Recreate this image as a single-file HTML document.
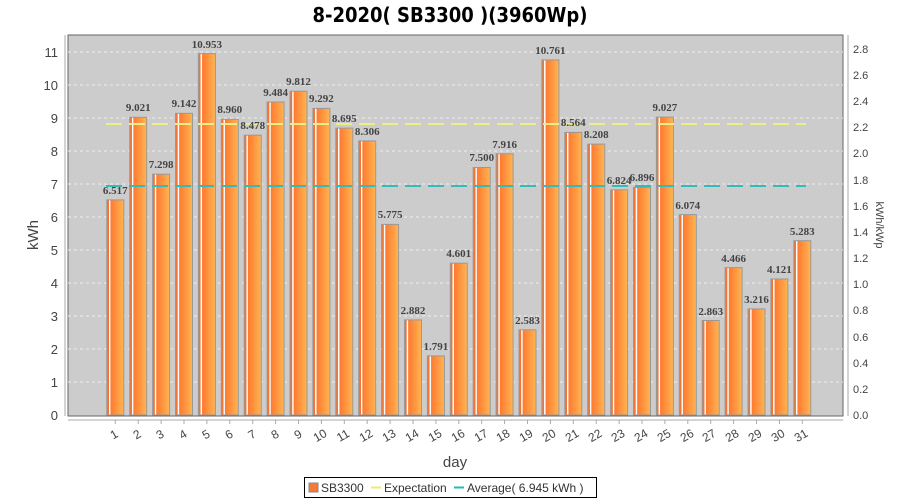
<!DOCTYPE html>
<html><head><meta charset="utf-8"><style>body{margin:0;background:#fff}svg{display:block}</style></head>
<body>
<svg width="900" height="500" xmlns="http://www.w3.org/2000/svg" font-family="Liberation Sans, sans-serif">
<defs>
<linearGradient id="g" x1="0" x2="1" y1="0" y2="0">
<stop offset="0" stop-color="#f47434"/><stop offset="0.12" stop-color="#f47434"/>
<stop offset="0.14" stop-color="#fff"/><stop offset="0.2" stop-color="#fff"/>
<stop offset="0.23" stop-color="#ff7a30"/><stop offset="1" stop-color="#ffb552"/>
</linearGradient>
</defs>
<text x="450" y="22" text-anchor="middle" font-family="DejaVu Sans, sans-serif" font-weight="bold" font-size="20" font-stretch="condensed" fill="#000">8-2020( SB3300 )(3960Wp)</text>
<rect x="68" y="35" width="775" height="381" fill="#cccccc" stroke="#666" stroke-width="1"/>
<g stroke="#eee" stroke-dasharray="3,3" stroke-width="1">
<line x1="68" x2="843" y1="382" y2="382"/><line x1="68" x2="843" y1="349" y2="349"/>
<line x1="68" x2="843" y1="316" y2="316"/><line x1="68" x2="843" y1="283" y2="283"/>
<line x1="68" x2="843" y1="250" y2="250"/><line x1="68" x2="843" y1="217" y2="217"/>
<line x1="68" x2="843" y1="184" y2="184"/><line x1="68" x2="843" y1="151" y2="151"/>
<line x1="68" x2="843" y1="118" y2="118"/><line x1="68" x2="843" y1="85" y2="85"/>
<line x1="68" x2="843" y1="52" y2="52"/>
</g>
<g font-size="13" fill="#444" text-anchor="end">
<text x="58" y="420">0</text><text x="58" y="387">1</text><text x="58" y="354">2</text><text x="58" y="321">3</text><text x="58" y="288">4</text><text x="58" y="255">5</text><text x="58" y="222">6</text><text x="58" y="189">7</text><text x="58" y="156">8</text><text x="58" y="123">9</text><text x="58" y="90">10</text><text x="58" y="57">11</text>
</g>
<line x1="65" y1="35" x2="65" y2="416" stroke="#aaa"/>
<line x1="848" y1="35" x2="848" y2="416" stroke="#aaa"/>
<g font-size="11" fill="#444">
<text x="853" y="419">0.0</text><text x="853" y="393">0.2</text><text x="853" y="367">0.4</text><text x="853" y="341">0.6</text><text x="853" y="314">0.8</text><text x="853" y="288">1.0</text><text x="853" y="262">1.2</text><text x="853" y="236">1.4</text><text x="853" y="210">1.6</text><text x="853" y="184">1.8</text><text x="853" y="157">2.0</text><text x="853" y="131">2.2</text><text x="853" y="105">2.4</text><text x="853" y="79">2.6</text><text x="853" y="53">2.8</text>
</g>
<text transform="translate(38,235) rotate(-90)" text-anchor="middle" font-size="15" fill="#444">kWh</text>
<text transform="translate(876,225) rotate(90)" text-anchor="middle" font-size="11" fill="#444">kWh/kWp</text>
<g fill="url(#g)" stroke="#999" stroke-width="1">
<rect x="106.8" y="199.9" width="17" height="215.1"/>
<rect x="129.7" y="117.3" width="17" height="297.7"/>
<rect x="152.6" y="174.2" width="17" height="240.8"/>
<rect x="175.5" y="113.3" width="17" height="301.7"/>
<rect x="198.4" y="53.6" width="17" height="361.4"/>
<rect x="221.3" y="119.3" width="17" height="295.7"/>
<rect x="244.2" y="135.2" width="17" height="279.8"/>
<rect x="267.1" y="102.0" width="17" height="313.0"/>
<rect x="290.0" y="91.2" width="17" height="323.8"/>
<rect x="312.9" y="108.4" width="17" height="306.6"/>
<rect x="335.8" y="128.1" width="17" height="286.9"/>
<rect x="358.7" y="140.9" width="17" height="274.1"/>
<rect x="381.6" y="224.4" width="17" height="190.6"/>
<rect x="404.5" y="319.9" width="17" height="95.1"/>
<rect x="427.4" y="355.9" width="17" height="59.1"/>
<rect x="450.3" y="263.2" width="17" height="151.8"/>
<rect x="473.2" y="167.5" width="17" height="247.5"/>
<rect x="496.1" y="153.8" width="17" height="261.2"/>
<rect x="519.0" y="329.8" width="17" height="85.2"/>
<rect x="541.9" y="59.9" width="17" height="355.1"/>
<rect x="564.8" y="132.4" width="17" height="282.6"/>
<rect x="587.7" y="144.1" width="17" height="270.9"/>
<rect x="610.6" y="189.8" width="17" height="225.2"/>
<rect x="633.5" y="187.4" width="17" height="227.6"/>
<rect x="656.4" y="117.1" width="17" height="297.9"/>
<rect x="679.3" y="214.6" width="17" height="200.4"/>
<rect x="702.2" y="320.5" width="17" height="94.5"/>
<rect x="725.1" y="267.6" width="17" height="147.4"/>
<rect x="748.0" y="308.9" width="17" height="106.1"/>
<rect x="770.9" y="279.0" width="17" height="136.0"/>
<rect x="793.8" y="240.7" width="17" height="174.3"/>
</g>
<line x1="106" x2="806" y1="124" y2="124" stroke="#eeee88" stroke-width="2" stroke-dasharray="16,7"/>
<line x1="106" x2="806" y1="186" y2="186" stroke="#33bbbb" stroke-width="2" stroke-dasharray="16,7"/>
<g font-family="Liberation Serif, serif" font-weight="bold" font-size="11" fill="#444" text-anchor="middle">
<text x="115.3" y="194">6.517</text><text x="138.2" y="111">9.021</text><text x="161.1" y="168">7.298</text><text x="184.0" y="107">9.142</text><text x="206.9" y="48">10.953</text><text x="229.8" y="113">8.960</text><text x="252.7" y="129">8.478</text><text x="275.6" y="96">9.484</text><text x="298.5" y="85">9.812</text><text x="321.4" y="102">9.292</text><text x="344.3" y="122">8.695</text><text x="367.2" y="135">8.306</text><text x="390.1" y="218">5.775</text><text x="413.0" y="314">2.882</text><text x="435.9" y="350">1.791</text><text x="458.8" y="257">4.601</text><text x="481.7" y="161">7.500</text><text x="504.6" y="148">7.916</text><text x="527.5" y="324">2.583</text><text x="550.4" y="54">10.761</text><text x="573.3" y="126">8.564</text><text x="596.2" y="138">8.208</text><text x="619.1" y="184">6.824</text><text x="642.0" y="181">6.896</text><text x="664.9" y="111">9.027</text><text x="687.8" y="209">6.074</text><text x="710.7" y="315">2.863</text><text x="733.6" y="262">4.466</text><text x="756.5" y="303">3.216</text><text x="779.4" y="273">4.121</text><text x="802.3" y="235">5.283</text>
</g>
<line x1="68" y1="420" x2="843" y2="420" stroke="#aaa"/>
<g stroke="#aaa">
<line x1="115.3" x2="115.3" y1="420" y2="424"/><line x1="138.2" x2="138.2" y1="420" y2="424"/><line x1="161.1" x2="161.1" y1="420" y2="424"/><line x1="184" x2="184" y1="420" y2="424"/><line x1="206.9" x2="206.9" y1="420" y2="424"/><line x1="229.8" x2="229.8" y1="420" y2="424"/><line x1="252.7" x2="252.7" y1="420" y2="424"/><line x1="275.6" x2="275.6" y1="420" y2="424"/><line x1="298.5" x2="298.5" y1="420" y2="424"/><line x1="321.4" x2="321.4" y1="420" y2="424"/><line x1="344.3" x2="344.3" y1="420" y2="424"/><line x1="367.2" x2="367.2" y1="420" y2="424"/><line x1="390.1" x2="390.1" y1="420" y2="424"/><line x1="413" x2="413" y1="420" y2="424"/><line x1="435.9" x2="435.9" y1="420" y2="424"/><line x1="458.8" x2="458.8" y1="420" y2="424"/><line x1="481.7" x2="481.7" y1="420" y2="424"/><line x1="504.6" x2="504.6" y1="420" y2="424"/><line x1="527.5" x2="527.5" y1="420" y2="424"/><line x1="550.4" x2="550.4" y1="420" y2="424"/><line x1="573.3" x2="573.3" y1="420" y2="424"/><line x1="596.2" x2="596.2" y1="420" y2="424"/><line x1="619.1" x2="619.1" y1="420" y2="424"/><line x1="642" x2="642" y1="420" y2="424"/><line x1="664.9" x2="664.9" y1="420" y2="424"/><line x1="687.8" x2="687.8" y1="420" y2="424"/><line x1="710.7" x2="710.7" y1="420" y2="424"/><line x1="733.6" x2="733.6" y1="420" y2="424"/><line x1="756.5" x2="756.5" y1="420" y2="424"/><line x1="779.4" x2="779.4" y1="420" y2="424"/><line x1="802.3" x2="802.3" y1="420" y2="424"/>
</g>
<g font-size="12" fill="#444" text-anchor="middle">
<text transform="translate(116,438) rotate(-30)">1</text><text transform="translate(139,438) rotate(-30)">2</text><text transform="translate(162,438) rotate(-30)">3</text><text transform="translate(185,438) rotate(-30)">4</text><text transform="translate(208,438) rotate(-30)">5</text><text transform="translate(231,438) rotate(-30)">6</text><text transform="translate(254,438) rotate(-30)">7</text><text transform="translate(277,438) rotate(-30)">8</text><text transform="translate(300,438) rotate(-30)">9</text><text transform="translate(322,439) rotate(-30)">10</text><text transform="translate(345,439) rotate(-30)">11</text><text transform="translate(368,439) rotate(-30)">12</text><text transform="translate(391,439) rotate(-30)">13</text><text transform="translate(414,439) rotate(-30)">14</text><text transform="translate(437,439) rotate(-30)">15</text><text transform="translate(460,439) rotate(-30)">16</text><text transform="translate(483,439) rotate(-30)">17</text><text transform="translate(505,439) rotate(-30)">18</text><text transform="translate(528,439) rotate(-30)">19</text><text transform="translate(551,439) rotate(-30)">20</text><text transform="translate(574,439) rotate(-30)">21</text><text transform="translate(597,439) rotate(-30)">22</text><text transform="translate(620,439) rotate(-30)">23</text><text transform="translate(643,439) rotate(-30)">24</text><text transform="translate(666,439) rotate(-30)">25</text><text transform="translate(689,439) rotate(-30)">26</text><text transform="translate(711,439) rotate(-30)">27</text><text transform="translate(734,439) rotate(-30)">28</text><text transform="translate(757,439) rotate(-30)">29</text><text transform="translate(780,439) rotate(-30)">30</text><text transform="translate(803,439) rotate(-30)">31</text>
</g>
<text x="455" y="467" text-anchor="middle" font-size="15" fill="#444">day</text>
<rect x="304.5" y="477.5" width="292" height="20" fill="#fff" stroke="#000"/>
<rect x="309" y="483" width="9" height="9" fill="#f5793a" stroke="#888"/>
<text x="321" y="492" font-size="12" fill="#333">SB3300</text>
<line x1="371" x2="381" y1="487.5" y2="487.5" stroke="#eeee66" stroke-width="2"/>
<text x="384" y="492" font-size="12" fill="#333">Expectation</text>
<line x1="454" x2="464" y1="487.5" y2="487.5" stroke="#22bbbb" stroke-width="2"/>
<text x="467" y="492" font-size="12" fill="#333">Average( 6.945 kWh )</text>
</svg>
</body></html>
